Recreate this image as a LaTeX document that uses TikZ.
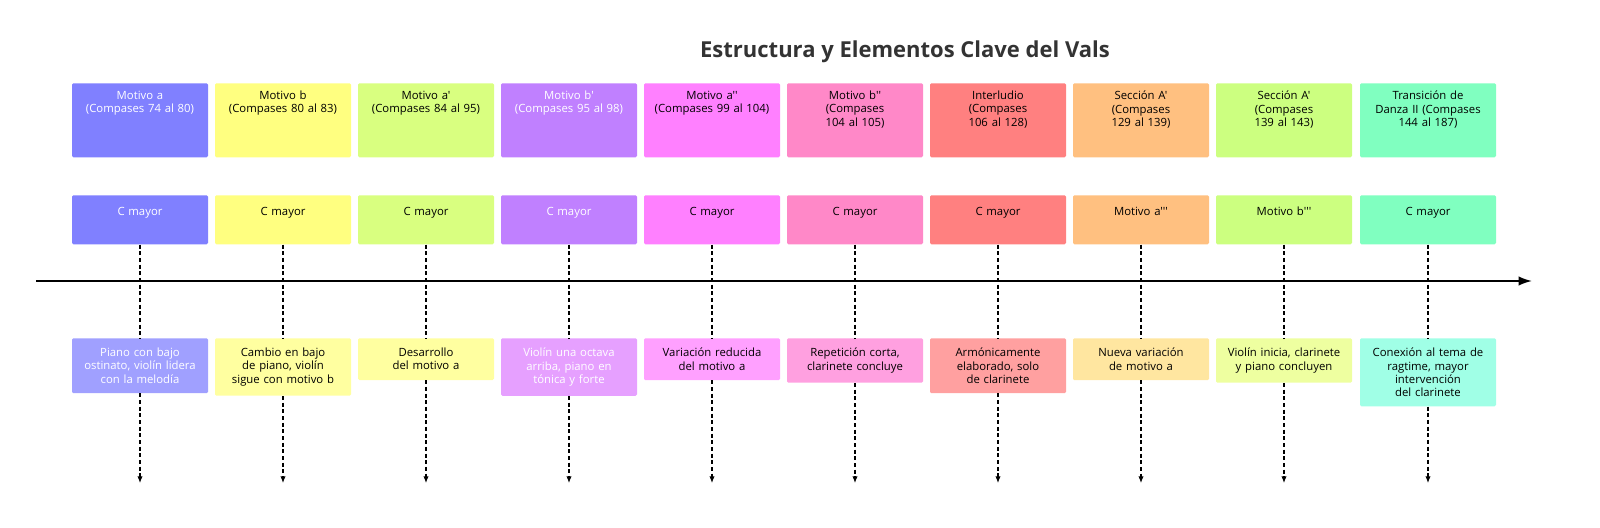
\documentclass[tikz,border=0pt]{standalone}
\usepackage{fontspec}
\setmainfont{Open Sans}[Ligatures=TeXOff]
\usetikzlibrary{positioning,arrows.meta}
\definecolor{tA1}{HTML}{8080FF}\definecolor{bA1}{HTML}{A0A0FF}
\definecolor{tA2}{HTML}{FFFF80}\definecolor{bA2}{HTML}{FFFFA0}
\definecolor{tA3}{HTML}{D9FF80}\definecolor{bA3}{HTML}{FFFFA0}
\definecolor{tA4}{HTML}{C080FF}\definecolor{bA4}{HTML}{E6A0FF}
\definecolor{tA5}{HTML}{FF80FF}\definecolor{bA5}{HTML}{FFA0FF}
\definecolor{tA6}{HTML}{FF88C8}\definecolor{bA6}{HTML}{FFA0E0}
\definecolor{tA7}{HTML}{FF8080}\definecolor{bA7}{HTML}{FFA0A0}
\definecolor{tA8}{HTML}{FFC080}\definecolor{bA8}{HTML}{FFE6A0}
\definecolor{tA9}{HTML}{CCFF80}\definecolor{bA9}{HTML}{EEFFA0}
\definecolor{tA10}{HTML}{80FFC0}\definecolor{bA10}{HTML}{A0FFE6}
\newcommand\cardfont{\fontsize{8.5}{9.8}\selectfont\hyphenpenalty=10000\exhyphenpenalty=10000}
\tikzset{
  card/.style={rectangle,rounded corners=1pt,minimum width=136*0.75pt,inner sep=0pt},
  cardtext/.style={anchor=north,align=center,text width=116*0.75pt,inner sep=0pt,font=\cardfont},
  link/.style={densely dashed,line width=0.8pt},
}
\begin{document}
\begin{tikzpicture}[x=0.75pt,y=-0.75pt]
\useasboundingbox (0,0) rectangle (1600,528);
\node[font=\fontsize{16.5}{20}\selectfont\bfseries,text=black!80] (title) at (905,52) {Estructura y Elementos Clave del Vals};
\coordinate (axisL) at (36,281);
\coordinate (axisR) at (1532,281);
\draw[line width=1.3pt,-{Latex[length=10pt,width=7pt]}] (axisL) -- (axisR);
\foreach \i/\x/\txt/\key/\note/\tw in {
  1/140/{Motivo a\\(Compases 74 al 80)}/{C mayor}/{Piano con bajo ostinato, violín lidera con la melodía}/white,
  2/283/{Motivo b\\(Compases 80 al 83)}/{C mayor}/{Cambio en bajo de piano, violín sigue con motivo b}/black,
  3/426/{Motivo a'\\(Compases 84 al 95)}/{C mayor}/{Desarrollo del motivo a}/black,
  4/569/{Motivo b'\\(Compases 95 al 98)}/{C mayor}/{Violín una octava arriba, piano en tónica y forte}/white,
  5/712/{Motivo a''\\(Compases 99 al 104)}/{C mayor}/{Variación reducida del motivo a}/black,
  6/855/{Motivo b''\\(Compases 104 al 105)}/{C mayor}/{Repetición corta, clarinete concluye}/black,
  7/998/{Interludio\\(Compases 106 al 128)}/{C mayor}/{Armónicamente elaborado, solo de clarinete}/black,
  8/1141/{Sección A'\\(Compases 129 al 139)}/{Motivo a'''}/{Nueva variación de motivo a}/black,
  9/1284/{Sección A'\\(Compases 139 al 143)}/{Motivo b'''}/{Violín inicia, clarinete y piano concluyen}/black,
  10/1428/{Transición de Danza II (Compases 144 al 187)}/{C mayor}/{Conexión al tema de ragtime, mayor intervención del clarinete}/black}
{
  \node[card,fill=tA\i,minimum height=74*0.75pt,anchor=north] (sec\i) at (\x,83) {};
  \node[cardtext,text=\tw,below=8*0.75pt of sec\i.north] (secT\i) {\txt};
  \node[card,fill=tA\i,minimum height=49*0.75pt,anchor=north] (key\i) at (\x,195) {};
  \node[cardtext,text=\tw,below=12*0.75pt of key\i.north] (keyT\i) {\key};
  \node[card,fill=bA\i,anchor=north,text width=116*0.75pt,align=center,inner xsep=10*0.75pt,inner ysep=10*0.75pt,
        font=\cardfont,text=\tw] (note\i) at (\x,338) {\note};
  \coordinate (end\i) at (\x,483);
  \draw[link] (key\i) -- (note\i);
  \draw[link,-{Latex[length=5pt,width=4pt]}] (note\i) -- (end\i);
}
\end{tikzpicture}
\end{document}
